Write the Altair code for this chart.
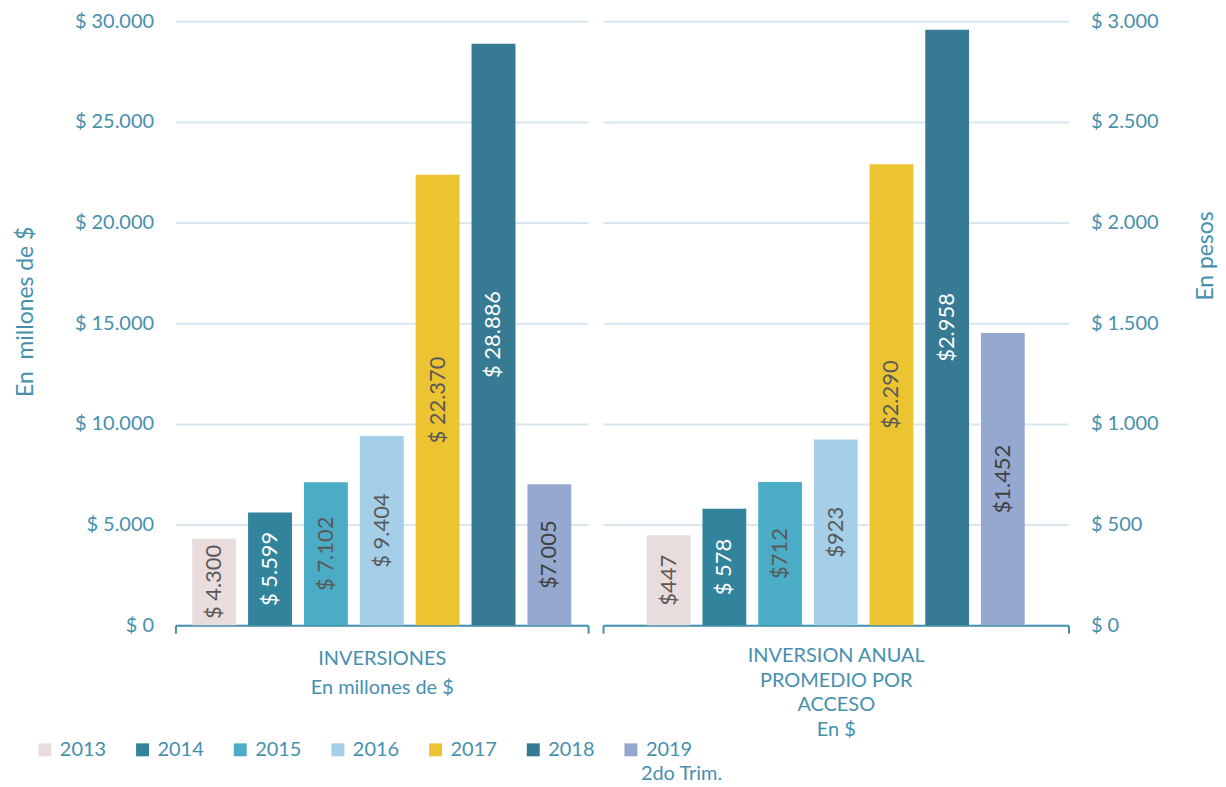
import altair as alt
import pandas as pd

years = ["2013", "2014", "2015", "2016", "2017", "2018", "2019"]
inversiones = [4300, 5599, 7102, 9404, 22370, 28886, 7005]
inversiones_labels = ["$ 4.300", "$ 5.599", "$ 7.102", "$ 9.404", "$ 22.370", "$ 28.886", "$7.005"]
promedio = [447, 578, 712, 923, 2290, 2958, 1452]
promedio_labels = ["$447", "$ 578", "$712", "$923", "$2.290", "$2.958", "$1.452"]
group_left = "INVERSIONES"
group_right = "INVERSION ANUAL PROMEDIO POR ACCESO"
legend_note = ["2do Trim."]
bar_colors = ["#E9DCDC", "#31849B", "#4BACC6", "#A5CFE8", "#ECC431", "#377A94", "#95A9D0"]

TXT = "#4690AE"
GRID = "#D8E7F0"
FONT = "Lato"


def make_df(group, values, labels):
    return pd.DataFrame({
        "group": group,
        "year": years,
        "value": values,
        "label": labels,
    })


df_left = make_df(group_left, inversiones, inversiones_labels)
df_right = make_df(group_right, promedio, promedio_labels)

label_color = (
    alt.when(alt.FieldOneOfPredicate(field="year", oneOf=["2014", "2018"]))
    .then(alt.value("#ffffff"))
    .when(alt.datum.year == "2019")
    .then(alt.value("#404040"))
    .otherwise(alt.value("#595959"))
)


def panel(df, width, x_title, line_height, title_pad, pad_outer, ymax, y_orient, y_title,
          y_title_pad, y_title_y, legend):
    xenc = alt.X(
        "group:N",
        scale=alt.Scale(paddingInner=0, paddingOuter=0),
        axis=alt.Axis(
            labels=False, title=x_title, tickBand="extent", ticks=True, tickSize=8,
            tickColor=TXT, tickWidth=2, domainColor=TXT, domainWidth=2,
            titleFontSize=20, titleFontWeight="normal", titleColor=TXT, titleFont=FONT,
            titlePadding=title_pad, titleLineHeight=line_height,
        ),
    )
    xoff = alt.XOffset("year:N", scale=alt.Scale(domain=years, paddingInner=0.214, paddingOuter=pad_outer))
    yaxis = alt.Axis(
        orient=y_orient, grid=True, gridColor=GRID, gridWidth=2, domain=False, ticks=False,
        values=[ymax * i / 6 for i in range(7)],
        labelExpr="'$ ' + replace(format(datum.value, ',.0f'), ',', '.')",
        labelFontSize=20, labelColor=TXT, labelFont=FONT, labelPadding=22,
        title=y_title, titleFontSize=23, titleFontWeight="normal", titleColor=TXT, titleFont=FONT,
        titlePadding=y_title_pad, titleAngle=270, titleY=y_title_y,
    )
    yscale = alt.Scale(domain=[0, ymax])
    base = alt.Chart(df).encode(x=xenc, xOffset=xoff)
    bars = base.mark_bar().encode(
        y=alt.Y("value:Q", scale=yscale, axis=yaxis),
        color=alt.Color(
            "year:N",
            scale=alt.Scale(domain=years, range=bar_colors),
            legend=legend,
        ),
    )
    text = base.transform_calculate(mid="datum.value / 2").mark_text(
        angle=270, fontSize=22, font=FONT, align="center", baseline="middle"
    ).encode(
        y=alt.Y("mid:Q", scale=yscale, axis=yaxis),
        text="label:N",
        color=label_color,
    )
    return alt.layer(bars, text).properties(width=width, height=606)


legend = alt.Legend(
    orient="none", legendX=-141, legendY=721, direction="horizontal",
    title=None, symbolType="square", symbolSize=169, symbolStrokeWidth=0,
    labelFontSize=20, labelColor=TXT, labelFont=FONT, labelOffset=5,
    columnPadding=26, padding=0,
)

left = panel(df_left, 414, ["INVERSIONES", "En millones de $"], 29, 14, 0.30,
             30000, "left", "En\u00a0\u00a0millones de $", 37, 291, legend)
right = panel(df_right, 467, ["INVERSION ANUAL", "PROMEDIO POR", "ACCESO", "En $"], 25, 11, 0.786,
              3000, "right", "En pesos", 60, 235, legend)

note = alt.Chart(pd.DataFrame({"t": legend_note})).mark_text(
    align="left", baseline="middle", fontSize=20, font=FONT, color=TXT
).encode(x=alt.value(38), y=alt.value(755), text="t:N")

right = alt.layer(right, note)

chart = alt.hconcat(left, right, spacing=13).resolve_scale(
    y="independent", xOffset="independent"
).properties(
    padding={"left": 6, "top": 2, "right": 0, "bottom": 0}
).configure(font=FONT).configure_view(stroke=None)

chart.save("out.html", embed_options={"renderer": "svg", "actions": False})
